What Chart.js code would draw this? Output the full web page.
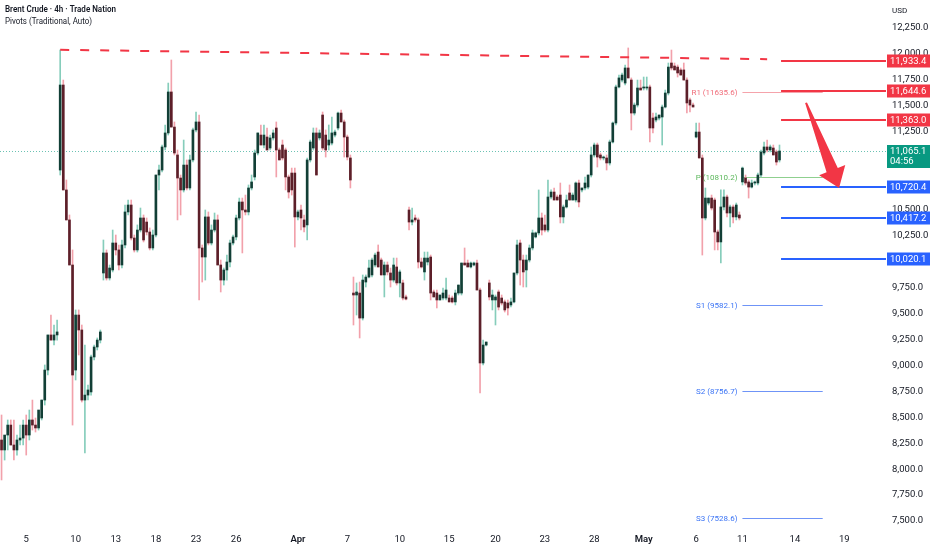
<!DOCTYPE html>
<html>
<head>
<meta charset="utf-8">
<script src="https://cdn.jsdelivr.net/npm/chart.js@4.4.1/dist/chart.umd.min.js"></script>
<style>
  html, body { margin: 0; padding: 0; background: #fff; }
</style>
</head>
<body>
<canvas id="chart" width="932" height="550"></canvas>
<script>
// 4h candles
const opens = [
  8281, 8185, 8329, 8425, 8233, 8185, 8281, 8300, 8425, 8329,
  8474, 8425, 8397, 8493, 8666, 8955, 9293, 9244, 9293, 10882,
  11701, 10690, 10401, 9967, 8955, 9485, 9341, 8666, 8714, 8744,
  9081, 9177, 9244, 9890, 10083, 9842, 9919, 10179, 10112, 9967,
  10160, 10478, 10545, 10227, 10112, 10304, 10420, 10381, 10285, 10131,
  10256, 10834, 10882, 11104, 11239, 11634, 11296, 11027, 10805, 10690,
  10930, 10709, 10979, 11268, 11345, 10131, 10044, 10430, 10179, 10304,
  10401, 9967, 9822, 9919, 9996, 10179, 10237, 10420, 10574, 10497,
  10478, 10709, 10815, 11046, 11219, 11123, 11200, 11094, 11191, 11287,
  11075, 11123, 11075, 10815, 10853, 10853, 10430, 10497, 10401, 10353,
  10979, 11094, 11239, 11191, 11412, 11219, 11123, 11142, 11219, 11287,
  11431, 11345, 11200, 10998, 9697, 9678, 9697, 9456, 9803, 9851,
  9871, 9967, 10092, 10015, 9871, 9967, 9890, 9822, 9948, 9794,
  9794, 9659, 10497, 10381, 10420, 10401, 9996, 9900, 9996, 10044,
  9707, 9697, 9630, 9649, 9649, 9649, 9649, 9611, 9697, 9697,
  9986, 9986, 9948, 9967, 9986, 9726, 9023, 9196, 9794, 9630,
  9630, 9707, 9649, 9611, 9601, 9582, 9611, 9890, 10179, 10015,
  9919, 10015, 10131, 10237, 10276, 10420, 10353, 10304, 10622, 10670,
  10622, 10641, 10430, 10526, 10661, 10593, 10593, 10757, 10690, 10709,
  10718, 10834, 11027, 11123, 11027, 10998, 10998, 10950, 11152, 11335,
  11682, 11749, 11720, 11865, 11749, 11431, 11508, 11672, 11672, 11672,
  11682, 11383, 11364, 11383, 11393, 11489, 11624, 11913, 11884, 11874,
  11846, 11846, 11749, 11557, 11508, 11200, 11248, 10998, 10420, 10564,
  10612, 10593, 10285, 10189, 10526, 10622, 10468, 10526, 10430, 10449,
  10767, 10805, 10767, 10718, 10757, 10757, 10834, 11046, 11104, 11075,
  11094, 11056, 10979
];
const highs = [
  8522, 8281, 8474, 8474, 8474, 8329, 8425, 8474, 8522, 8570,
  8666, 8493, 8522, 8666, 9004, 9293, 9485, 9389, 9437, 12038,
  11749, 10786, 10449, 10112, 9534, 9534, 9389, 9196, 8811, 9100,
  9196, 9264, 9341, 10208, 10112, 9967, 10304, 10256, 10160, 10208,
  10545, 10593, 10593, 10256, 10353, 10516, 10449, 10420, 10324, 10304,
  10834, 10930, 11123, 11316, 11720, 11942, 11345, 11075, 10834, 11171,
  10979, 11027, 11287, 11441, 11412, 10160, 10497, 10478, 10353, 10468,
  10449, 10015, 9938, 10063, 10208, 10256, 10449, 10612, 10612, 10641,
  10738, 10834, 11075, 11239, 11316, 11316, 11287, 11219, 11268, 11345,
  11094, 11171, 11094, 10834, 10901, 10901, 10497, 10545, 10449, 10998,
  11171, 11287, 11287, 11268, 11441, 11268, 11316, 11393, 11268, 11441,
  11460, 11364, 11219, 11027, 9851, 9794, 9803, 9871, 9871, 10015,
  10034, 10083, 10160, 10034, 9996, 9996, 9938, 10034, 10034, 9919,
  9822, 9678, 10526, 10516, 10449, 10420, 10034, 10092, 10092, 10063,
  9726, 9726, 9678, 9745, 9842, 9678, 9668, 9726, 9774, 9986,
  10131, 10015, 9996, 9996, 10015, 9745, 9244, 9225, 9822, 9726,
  9678, 9726, 9678, 9630, 9630, 9649, 9890, 10208, 10208, 10063,
  10063, 10160, 10304, 10285, 10690, 10468, 10449, 10786, 10690, 10709,
  10641, 10757, 10545, 10641, 10738, 10661, 10767, 10786, 10709, 10815,
  10834, 11104, 11142, 11142, 11046, 11017, 11027, 11171, 11345, 11701,
  11797, 11817, 11894, 12058, 11769, 11528, 11749, 11749, 11778, 11778,
  11701, 11431, 11431, 11412, 11508, 11653, 11913, 12038, 11913, 11894,
  11865, 11913, 11769, 11576, 11528, 11335, 11335, 11027, 10709, 10612,
  10641, 10612, 10304, 10690, 10690, 10641, 10545, 10545, 10564, 10478,
  10911, 10834, 10786, 10786, 10776, 10853, 11075, 11152, 11171, 11123,
  11123, 11075, 11123
];
const lows = [
  7896, 8088, 8185, 8233, 8088, 8136, 8233, 8233, 8136, 8281,
  8377, 8358, 8377, 8474, 8618, 8907, 9244, 9196, 9244, 10834,
  10690, 10401, 9967, 8425, 8859, 9100, 8647, 8156, 8666, 8714,
  9052, 9148, 9216, 9822, 9822, 9822, 9900, 10063, 9919, 9938,
  10131, 10449, 10208, 10092, 10092, 10285, 10189, 10256, 10112, 10112,
  10237, 10690, 10863, 11075, 11219, 11296, 11027, 10401, 10449, 10670,
  10690, 10690, 10959, 11248, 9630, 9803, 9822, 10160, 10160, 10285,
  9967, 9707, 9774, 9822, 9948, 10160, 10208, 10401, 10083, 10449,
  10449, 10690, 10786, 11027, 11123, 11094, 11075, 11075, 11171, 10815,
  10979, 10979, 10690, 10612, 10641, 10140, 10401, 10304, 10285, 10208,
  10959, 11075, 10834, 11171, 11075, 11007, 11075, 11123, 11200, 11268,
  11345, 11007, 10979, 10709, 9389, 9485, 9264, 9437, 9755, 9842,
  9851, 9948, 9948, 9871, 9659, 9871, 9755, 9803, 9774, 9659,
  9630, 9630, 10304, 10353, 10381, 9938, 9938, 9822, 9967, 9630,
  9659, 9553, 9630, 9630, 9630, 9611, 9601, 9582, 9678, 9678,
  9967, 9948, 9938, 9957, 9726, 8734, 9004, 9187, 9630, 9534,
  9389, 9534, 9582, 9514, 9485, 9562, 9601, 9871, 9774, 9755,
  9755, 9996, 10112, 10227, 10256, 10256, 10285, 10285, 10603, 10593,
  10593, 10372, 10372, 10516, 10593, 10593, 10574, 10526, 10670, 10690,
  10699, 10815, 11007, 10911, 10979, 10979, 10882, 10930, 11142, 11316,
  11672, 11730, 11701, 11769, 11268, 11412, 11489, 11653, 11653, 11653,
  11152, 11239, 11345, 11364, 11123, 11480, 11605, 11846, 11846, 11778,
  11797, 11749, 11431, 11441, 11489, 11191, 10998, 10063, 10401, 10545,
  10497, 10112, 10112, 9986, 10497, 10430, 10333, 10372, 10401, 10401,
  10738, 10738, 10612, 10709, 10738, 10738, 10815, 11027, 11056, 11056,
  11027, 10930, 10959
];
const closes = [
  8185, 8329, 8425, 8233, 8185, 8281, 8300, 8425, 8329, 8474,
  8425, 8397, 8570, 8666, 8955, 9293, 9244, 9293, 9322, 11701,
  10690, 10401, 9967, 8907, 9485, 9341, 8666, 8714, 8763, 9081,
  9177, 9244, 9322, 10083, 9842, 9938, 10179, 10112, 9967, 10160,
  10478, 10545, 10227, 10112, 10304, 10420, 10208, 10285, 10131, 10256,
  10834, 10882, 11104, 11239, 11634, 11296, 11046, 10805, 10690, 10930,
  10709, 10979, 11268, 11345, 10131, 10044, 10430, 10179, 10304, 10401,
  9967, 9822, 9919, 9996, 10179, 10237, 10420, 10574, 10497, 10478,
  10709, 10767, 11046, 11239, 11123, 11219, 11075, 11191, 11239, 11075,
  10979, 10998, 10815, 10670, 10690, 10430, 10478, 10420, 10333, 10979,
  11152, 11239, 10834, 11239, 11094, 11075, 11171, 11239, 11248, 11431,
  11345, 11200, 11007, 10786, 9678, 9707, 9456, 9822, 9851, 9938,
  10015, 10063, 9948, 9871, 9967, 9900, 9822, 9967, 9794, 9900,
  9649, 9639, 10381, 10401, 10401, 9996, 9948, 10034, 10034, 9697,
  9659, 9630, 9678, 9697, 9726, 9611, 9611, 9697, 9774, 9986,
  9967, 9948, 9986, 9986, 9726, 9023, 9196, 9225, 9659, 9678,
  9659, 9562, 9601, 9534, 9553, 9611, 9890, 10160, 10015, 9900,
  10015, 10131, 10276, 10276, 10420, 10304, 10304, 10622, 10670, 10593,
  10593, 10430, 10526, 10593, 10593, 10641, 10757, 10574, 10709, 10757,
  10834, 11027, 11123, 11007, 10998, 11007, 10950, 11152, 11335, 11682,
  11769, 11797, 11865, 11769, 11431, 11508, 11672, 11653, 11682, 11682,
  11287, 11287, 11393, 11412, 11489, 11624, 11874, 11865, 11846, 11817,
  11797, 11749, 11528, 11508, 11489, 11248, 10998, 10420, 10612, 10612,
  10516, 10285, 10189, 10526, 10622, 10468, 10526, 10430, 10545, 10420,
  10901, 10757, 10718, 10757, 10767, 10834, 11056, 11104, 11075, 11104,
  11027, 10959, 11065.1
];
const futureBars = 34;

// date labels on the time axis (bar slot they sit under)
const tickText = ['5', '10', '13', '18', '23', '26', 'Apr', '7', '10', '15', '20', '23', '28', 'May', '6', '11', '14', '19'];
const tickIdx = [8, 24, 37, 50, 63, 76, 96, 112, 129, 145, 160, 176, 192, 208, 225, 240, 257, 273];

// price axis
const priceTicks = [7500, 7750, 8000, 8250, 8500, 8750, 9000, 9250, 9500, 9750, 10250, 10500, 11250, 11500, 11750, 12000, 12250];

// drawn levels
const levelPrices = [11933.4, 11644.6, 11363.0, 10720.4, 10417.2, 10020.1];
const pivotNames = ['R1', 'P', 'S1', 'S2', 'S3'];
const pivotValues = [11635.6, 10810.2, 9582.1, 8756.7, 7528.6];
const trendIdx = [19, 248];
const trendPrices = [12040, 11950];
const arrowIdx = [260.6, 271.3];
const arrowPrices = [11530, 10710];
const countdown = '04:56';

const UP_BODY = '#123f36', DOWN_BODY = '#5c1f29';
const UP_WICK = '#86cdbb', DOWN_WICK = '#f2a1ab';
const RED = '#f23645', BLUE = '#2962ff', GREEN = '#089981', TEXT = '#131722';

const n = closes.length;
const lastPrice = closes[n - 1];
const slots = Array.from({ length: n + futureBars }, (_, i) => i);
const isUp = closes.map((c, i) => c >= opens[i]);
const fmt = v => v.toLocaleString('en-US', { minimumFractionDigits: 1, maximumFractionDigits: 1 });

function seg(ctx, x1, y1, x2, y2) {
  ctx.beginPath();
  ctx.moveTo(x1, y1);
  ctx.lineTo(x2, y2);
  ctx.stroke();
}

const overlay = {
  id: 'overlay',
  beforeDatasetsDraw(chart) {
    const { ctx, chartArea: a, scales: { x, y } } = chart;
    ctx.save();
    // last price dotted line
    const py = Math.round(y.getPixelForValue(lastPrice)) + 0.5;
    ctx.strokeStyle = 'rgba(8,153,129,0.6)';
    ctx.lineWidth = 1;
    ctx.setLineDash([1, 2]);
    seg(ctx, a.left, py, a.right, py);
    ctx.setLineDash([]);

    // pivot points
    const px1 = x.getPixelForValue(240), px2 = x.getPixelForValue(266);
    ctx.font = '8px Roboto';
    ctx.textAlign = 'right';
    ctx.textBaseline = 'middle';
    pivotNames.forEach((name, i) => {
      const v = pivotValues[i];
      const yy = Math.round(y.getPixelForValue(v)) + 0.5;
      const kind = name[0];
      ctx.strokeStyle = kind === 'R' ? '#f5a3ab' : kind === 'P' ? '#8fd08f' : '#6f94f7';
      ctx.fillStyle = kind === 'R' ? '#f06d7a' : kind === 'P' ? '#5cb85c' : '#3a73f5';
      seg(ctx, px1, yy, px2, yy);
      ctx.fillText(name + ' (' + v.toFixed(1) + ')', px1 - 5, yy, 46);
    });
    ctx.restore();
  },
  afterDatasetsDraw(chart) {
    const { ctx, chartArea: a, scales: { x, y } } = chart;
    ctx.save();
    // dashed resistance trend line
    ctx.strokeStyle = RED;
    ctx.lineWidth = 2;
    ctx.setLineDash([9, 11]);
    seg(ctx, x.getPixelForValue(trendIdx[0]), y.getPixelForValue(trendPrices[0]),
      x.getPixelForValue(trendIdx[1]), y.getPixelForValue(trendPrices[1]));
    ctx.setLineDash([]);

    // horizontal levels to the right
    const lx = x.getPixelForValue(n - 0.5);
    levelPrices.forEach(v => {
      ctx.strokeStyle = v > lastPrice ? RED : BLUE;
      const yy = Math.round(y.getPixelForValue(v));
      seg(ctx, lx, yy, a.right, yy);
    });

    // arrow
    const x0 = x.getPixelForValue(arrowIdx[0]), y0 = y.getPixelForValue(arrowPrices[0]);
    const x1 = x.getPixelForValue(arrowIdx[1]), y1 = y.getPixelForValue(arrowPrices[1]);
    const len = Math.hypot(x1 - x0, y1 - y0);
    const ux = (x1 - x0) / len, uy = (y1 - y0) / len, nx = -uy, ny = ux;
    const bx = x1 - ux * 19, by = y1 - uy * 19;
    ctx.fillStyle = RED;
    ctx.beginPath();
    ctx.moveTo(x0 + nx, y0 + ny);
    ctx.lineTo(bx + nx * 6, by + ny * 6);
    ctx.lineTo(bx + nx * 14, by + ny * 14);
    ctx.lineTo(x1, y1);
    ctx.lineTo(bx - nx * 14, by - ny * 14);
    ctx.lineTo(bx - nx * 6, by - ny * 6);
    ctx.lineTo(x0 - nx, y0 - ny);
    ctx.closePath();
    ctx.fill();
    ctx.restore();
  },
  afterDraw(chart) {
    const { ctx, chartArea: a, scales: { y } } = chart;
    ctx.save();
    const bx = a.right + 1, bw = chart.width - a.right - 3;
    ctx.font = '9.5px Roboto';
    ctx.textAlign = 'left';
    ctx.textBaseline = 'middle';
    levelPrices.forEach(v => {
      const yy = Math.round(y.getPixelForValue(v));
      ctx.fillStyle = v > lastPrice ? RED : BLUE;
      ctx.fillRect(bx, yy - 6.5, bw, 13);
      ctx.fillStyle = '#fff';
      ctx.fillText(fmt(v), bx + 3, yy + 0.5);
    });
    // last price badge
    const py = Math.round(y.getPixelForValue(lastPrice));
    ctx.fillStyle = GREEN;
    ctx.fillRect(bx, py - 6, bw, 23);
    ctx.fillStyle = '#fff';
    ctx.fillText(fmt(lastPrice), bx + 3, py + 0.5);
    ctx.fillText(countdown, bx + 3, py + 11);

    // header
    ctx.fillStyle = TEXT;
    ctx.font = '8px Roboto';
    ctx.fillText('USD', 892, 11);
    ctx.font = '600 9px Roboto';
    ctx.fillText('Brent Crude \u00b7 4h \u00b7 Trade Nation', 5, 10, 111);
    ctx.font = '9px Roboto';
    ctx.fillText('Pivots (Traditional, Auto)', 5, 22, 87);
    ctx.restore();
  }
};

const chart = document.getElementById('chart').getContext('2d');

new Chart(chart, {
  type: 'bar',
  data: {
    labels: slots,
    datasets: [
      {
        label: 'wicks',
        data: lows.map((l, i) => [l, highs[i]]),
        backgroundColor: isUp.map(u => u ? UP_WICK : DOWN_WICK),
        barThickness: 1,
        grouped: false,
        order: 2
      },
      {
        label: 'bodies',
        data: opens.map((o, i) => [o, closes[i]]),
        backgroundColor: isUp.map(u => u ? UP_BODY : DOWN_BODY),
        barThickness: 2,
        minBarLength: 1,
        grouped: false,
        order: 1
      }
    ]
  },
  options: {
    responsive: false,
    animation: false,
    devicePixelRatio: 1,
    layout: { padding: 0 },
    plugins: { legend: { display: false }, tooltip: { enabled: false } },
    scales: {
      x: {
        grid: { display: false, drawTicks: false },
        border: { display: false },
        ticks: {
          autoSkip: false,
          maxRotation: 0,
          padding: 4,
          color: TEXT,
          font: c => ({ family: 'Roboto', size: 9.5, weight: /[A-Za-z]/.test(c.tick && c.tick.label) ? '600' : '400' }),
          callback: v => tickText[tickIdx.indexOf(v)]
        },
        afterBuildTicks: s => { s.ticks = tickIdx.map(v => ({ value: v })); },
        afterFit: s => { s.height = 20; s.paddingLeft = 0; s.paddingRight = 0; }
      },
      y: {
        position: 'right',
        min: 7414,
        max: 12520,
        grid: { display: false, drawTicks: false },
        border: { display: false },
        ticks: {
          padding: 6,
          color: TEXT,
          font: { family: 'Roboto', size: 9.5 },
          callback: v => fmt(v)
        },
        afterBuildTicks: s => { s.ticks = priceTicks.map(v => ({ value: v })); },
        afterFit: s => { s.width = 46; s.paddingTop = 0; s.paddingBottom = 0; }
      }
    }
  },
  plugins: [overlay]
});
</script>
</body>
</html>
